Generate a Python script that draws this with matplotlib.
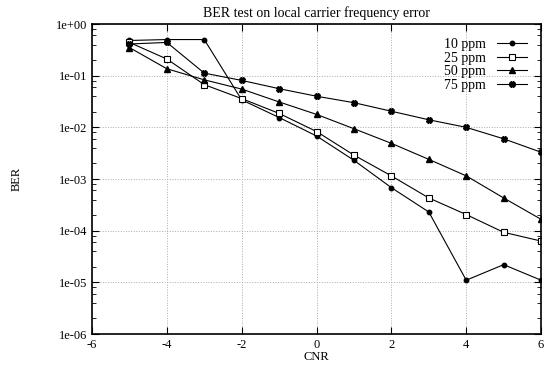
import math
import matplotlib
matplotlib.use('Agg')
import matplotlib.pyplot as plt
from matplotlib.ticker import FuncFormatter, FixedLocator, NullFormatter

plt.rcParams['font.family'] = ['Liberation Serif', 'DejaVu Serif']
plt.rcParams['font.size'] = 9
plt.rcParams['axes.unicode_minus'] = False

cnr = [-5, -4, -3, -2, -1, 0, 1, 2, 3, 4, 5, 6]

ber_10 = [0.48, 0.50, 0.50, 0.034, 0.0155, 0.0068, 0.0023, 6.8e-4, 2.3e-4, 1.1e-5, 2.2e-5, 1.1e-5]
ber_25 = [0.44, 0.21, 0.067, 0.036, 0.0186, 0.0083, 0.0029, 0.00115, 4.3e-4, 2.05e-4, 9.3e-5, 6.3e-5]
ber_50 = [0.35, 0.136, 0.083, 0.055, 0.031, 0.0178, 0.0094, 0.0049, 0.0024, 0.00115, 4.3e-4, 1.66e-4]
ber_75 = [0.41, 0.44, 0.112, 0.081, 0.056, 0.040, 0.030, 0.0205, 0.014, 0.010, 0.006, 0.0033]

labels = ['10 ppm', '25 ppm', '50 ppm', '75 ppm']
y_major = [1e-6, 1e-5, 1e-4, 1e-3, 1e-2, 1e-1, 1]

fig = plt.figure(figsize=(5.53, 3.67), dpi=100)
ax = fig.add_axes([0.1664, 0.0899, 0.812, 0.8447])

ax.plot(cnr, ber_10, color='black', lw=0.8, marker='o', ms=3.2, label=labels[0])
ax.plot(cnr, ber_25, color='black', lw=0.8, marker='s', ms=4.2, mfc='white', mew=0.8, label=labels[1])
ax.plot(cnr, ber_50, color='black', lw=0.8, marker='^', ms=3.8, label=labels[2])
ax.plot(cnr, ber_75, color='black', lw=0.8, marker='X', ms=3.8, label=labels[3])

ax.set_yscale('log')
ax.set_xlim(-6, 6)
ax.set_ylim(1e-6, 1)
ax.set_xticks([-6, -4, -2, 0, 2, 4, 6])
ax.yaxis.set_major_locator(FixedLocator(y_major))
ax.yaxis.set_minor_locator(FixedLocator([d * m for d in y_major[:-1] for m in (2, 4, 6, 8)]))
ax.yaxis.set_minor_formatter(NullFormatter())
ax.yaxis.set_major_formatter(FuncFormatter(lambda v, p: '1e%+03d' % round(math.log10(v))))

ax.tick_params(which='both', direction='in', top=True, right=True)
ax.tick_params(which='major', length=5)
ax.tick_params(which='minor', length=3)
ax.grid(True, which='major', ls=':', lw=0.7, color='#aaaaaa')
for s in ax.spines.values():
    s.set_linewidth(1.2)

ax.set_title('BER test on local carrier frequency error', fontsize=10, pad=5)
ax.set_xlabel('CNR', labelpad=0)
ax.set_ylabel('BER', labelpad=24)

ax.legend(loc='upper right', frameon=False, markerfirst=False, handlelength=2.2,
          labelspacing=0.05, borderaxespad=0.6, fontsize=10)

fig.savefig('out.png', dpi=100)
